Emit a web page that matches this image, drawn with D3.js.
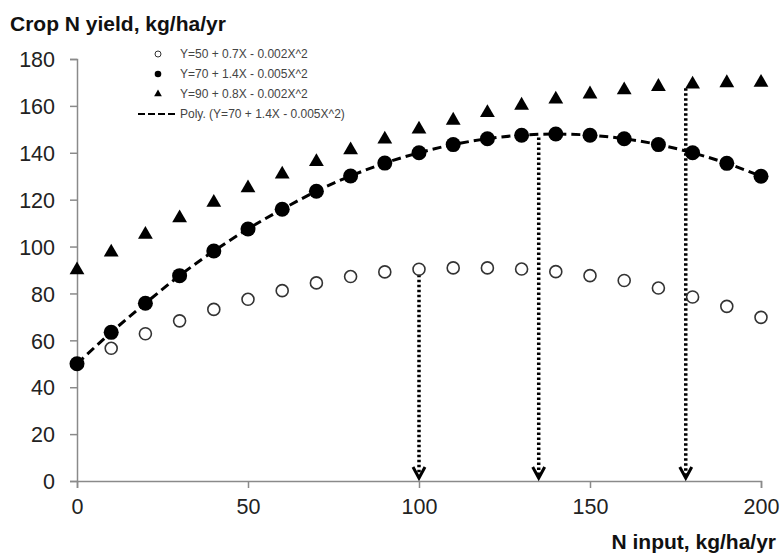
<!DOCTYPE html>
<html>
<head>
<meta charset="utf-8">
<script src="https://cdn.jsdelivr.net/npm/d3@7"></script>
<style>
  body { margin: 0; background: #fff; }
  text { font-family: "Liberation Sans", Arial, sans-serif; }
</style>
</head>
<body>
<svg id="chart" width="782" height="557"></svg>
<script>
// values
const nInput = [0,10,20,30,40,50,60,70,80,90,100,110,120,130,140,150,160,170,180,190,200];
const openYield = [50,56.6,62.8,68.3,73.2,77.5,81.2,84.5,87.2,89.2,90.3,90.9,90.9,90.4,89.3,87.6,85.5,82.3,78.5,74.5,69.8];
const filledYield = [50,63.4,75.8,87.6,98.1,107.5,115.9,123.6,130.1,135.6,140,143.5,146,147.5,148,147.5,146,143.5,140,135.5,130];
const triYield = [90,97.6,105.1,112.2,118.8,125,130.8,136.2,141.2,145.8,150,153.8,157.1,160.2,162.8,165,166.8,168.2,169.2,169.8,170];
const legendLabels = ["Y=50 + 0.7X - 0.002X^2", "Y=70 + 1.4X - 0.005X^2", "Y=90 + 0.8X - 0.002X^2", "Poly. (Y=70 + 1.4X - 0.005X^2)"];
// arrows: [x, top y value]
const arrows = [[100, 88], [135, 146.5], [178, 167.5]];
const xTicks = [0,50,100,150,200];
const yTicks = [0,20,40,60,80,100,120,140,160,180];

const svg = d3.select("#chart");
const x = d3.scaleLinear().domain([0,200]).range([77,761]);
const y = d3.scaleLinear().domain([0,180]).range([481,59]);

// axes
const xAxis = svg.append("g")
    .attr("transform","translate(0,481)")
    .call(d3.axisBottom(x).tickValues(xTicks).tickSize(7).tickPadding(11));
const yAxis = svg.append("g")
    .attr("transform","translate(77,0)")
    .call(d3.axisLeft(y).tickValues(yTicks).tickSize(7).tickPadding(15));
[xAxis, yAxis].forEach(g => {
    g.select(".domain").attr("stroke","#8a8a8a").attr("stroke-width",1.5);
    g.selectAll(".tick line").attr("stroke","#8a8a8a").attr("stroke-width",1.5);
    g.selectAll(".tick text")
        .attr("fill","#222")
        .style("font-size","21.5px")
        .style("font-family","'Liberation Sans', Arial, sans-serif");
});
yAxis.selectAll(".tick text").attr("dy","0.36em");

// titles
svg.append("text")
    .attr("x",10).attr("y",31)
    .style("font-size","21px").style("font-weight","bold")
    .attr("fill","#111")
    .text("Crop N yield, kg/ha/yr");
svg.append("text")
    .attr("x",776).attr("y",549)
    .attr("text-anchor","end")
    .style("font-size","21px").style("font-weight","bold")
    .attr("fill","#111")
    .text("N input, kg/ha/yr");

// dotted arrows
let arrowG = svg.append("g");
arrows.forEach(a => {
    arrowG.append("line")
        .attr("x1",x(a[0])).attr("x2",x(a[0]))
        .attr("y1",y(a[1])).attr("y2",y(0)-4)
        .attr("stroke","#000").attr("stroke-width",3.5)
        .attr("stroke-dasharray","2.5,2.5");
    arrowG.append("path")
        .attr("d","M"+(x(a[0])-6)+","+(y(0)-14)+" L"+x(a[0])+","+(y(0)-3)+" L"+(x(a[0])+6)+","+(y(0)-14))
        .attr("fill","none").attr("stroke","#000").attr("stroke-width",3);
});

// poly trend line through filled points
let line = d3.line()
    .x((d,i) => x(nInput[i]))
    .y(d => y(d))
    .curve(d3.curveMonotoneX);
svg.append("path")
    .datum(filledYield)
    .attr("d", line)
    .attr("fill","none")
    .attr("stroke","#000")
    .attr("stroke-width",3)
    .attr("stroke-dasharray","9,5");

// open circles
svg.append("g").selectAll("circle")
    .data(openYield)
    .enter().append("circle")
    .attr("cx",(d,i) => x(nInput[i]))
    .attr("cy",d => y(d))
    .attr("r",6)
    .attr("fill","none")
    .attr("stroke","#333")
    .attr("stroke-width",1.6);

// filled circles
svg.append("g").selectAll("circle")
    .data(filledYield)
    .enter().append("circle")
    .attr("cx",(d,i) => x(nInput[i]))
    .attr("cy",d => y(d))
    .attr("r",7.5)
    .attr("fill","#000");

// triangles
let tri = d3.symbol().type(d3.symbolTriangle).size(95);
svg.append("g").selectAll("path")
    .data(triYield)
    .enter().append("path")
    .attr("d", tri)
    .attr("transform",(d,i) => "translate("+x(nInput[i])+","+y(d)+")")
    .attr("fill","#000");

// legend
let legend = svg.append("g");
let rowY = [54, 74, 94, 114];
legend.append("circle").attr("cx",158).attr("cy",rowY[0]).attr("r",3)
    .attr("fill","none").attr("stroke","#333").attr("stroke-width",1);
legend.append("circle").attr("cx",158).attr("cy",rowY[1]).attr("r",3.3).attr("fill","#000");
legend.append("path").attr("d", d3.symbol().type(d3.symbolTriangle).size(26))
    .attr("transform","translate(158,"+rowY[2]+")").attr("fill","#000");
legend.append("line").attr("x1",138).attr("x2",178).attr("y1",rowY[3]).attr("y2",rowY[3])
    .attr("stroke","#000").attr("stroke-width",2.2).attr("stroke-dasharray","7,3");
legendLabels.forEach((l,i) => {
    legend.append("text")
        .attr("x",180).attr("y",rowY[i]).attr("dy","0.35em")
        .style("font-size","12px").attr("fill","#444")
        .text(l);
});
</script>
</body>
</html>
